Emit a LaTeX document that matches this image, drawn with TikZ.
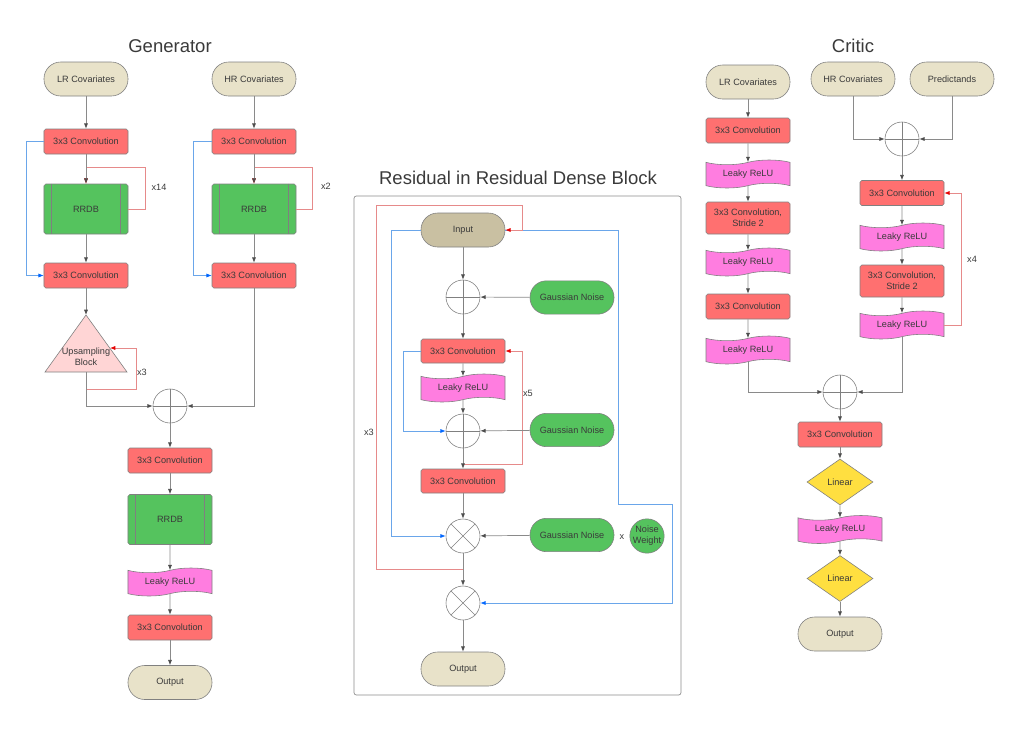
\documentclass[tikz,border=0pt]{standalone}
\usepackage{fontspec}
\setmainfont{Liberation Sans}
\usetikzlibrary{shapes.geometric,shapes.symbols,arrows.meta}
\definecolor{convred}{HTML}{FF7070}
\definecolor{blockgreen}{HTML}{55C35E}
\definecolor{termbeige}{HTML}{E8E2C9}
\definecolor{inputbeige}{HTML}{C9C0A2}
\definecolor{relupink}{HTML}{FF7DE0}
\definecolor{linyellow}{HTML}{FFDF40}
\definecolor{upspink}{HTML}{FFD5D5}
\definecolor{txtgray}{HTML}{3A3A3A}
\definecolor{linegray}{HTML}{8A8A8A}
\definecolor{loopred}{HTML}{E68A8A}
\definecolor{skipblue}{HTML}{6AA6EA}
\begin{document}
\begin{tikzpicture}[x=0.03cm, y=-0.03cm,
 every node/.style={font=\fontsize{7.8}{9.4}\selectfont, text=txtgray, align=center},
 base/.style={draw=black!50, line width=0.5pt},
 term/.style={base, fill=termbeige, rectangle, rounded corners=0.5cm, minimum width=2.52cm, minimum height=1.02cm},
 conv/.style={base, fill=convred, rectangle, rounded corners=1.5pt, minimum width=2.52cm, minimum height=0.75cm},
 rrdb/.style={base, fill=blockgreen, rectangle, rounded corners=1.5pt, minimum width=2.52cm, minimum height=1.5cm},
 relu/.style={base, fill=relupink, tape, tape bend height=4pt, minimum width=2.52cm, minimum height=0.84cm},
 lin/.style={base, fill=linyellow, diamond, minimum width=1.98cm, minimum height=1.38cm, inner sep=0pt},
 op/.style={base, circle, minimum size=1.02cm, inner sep=0pt},
 noise/.style={base, fill=blockgreen, rectangle, rounded corners=0.49cm, minimum width=2.52cm, minimum height=1cm},
 arr/.style={draw=linegray, line width=0.6pt, -{Latex[length=4.5pt,width=3.5pt,color=black!70]}},
 rd/.style={draw=loopred, line width=0.6pt, -{Latex[length=4.5pt,width=3.5pt,color=red!90!black]}},
 bl/.style={draw=skipblue, line width=0.6pt, -{Latex[length=4.5pt,width=3.5pt,color=blue!60!cyan]}},
 ttl/.style={font=\fontsize{15.8}{18}\selectfont}
]
 \useasboundingbox (0,0) rectangle (1026,748);

 %generator
 \def\gl{86}
 \def\gright{254}
 \def\gm{170}
 \node[ttl] (gtitle) at (\gm,46) {Generator};
 \node[term] (glr) at (\gl,79) {LR Covariates};
 \node[term] (ghr) at (\gright,79) {HR Covariates};
 \node[conv] (gcA) at (\gl,141.5) {3x3 Convolution};
 \node[conv] (gcB) at (\gright,141.5) {3x3 Convolution};
 \node[rrdb] (grA) at (\gl,209) {RRDB};
 \node[rrdb] (grB) at (\gright,209) {RRDB};
 \node[conv] (gcC) at (\gl,275.5) {3x3 Convolution};
 \node[conv] (gcD) at (\gright,275.5) {3x3 Convolution};
 \draw[base, fill=upspink] (\gl,315) -- (127,372) -- (45,372) -- cycle;
 \node (gup) at (\gl,357) {Upsampling\\Block};
 \coordinate (gupT) at (\gl,315);
 \coordinate (gupB) at (\gl,372);
 \coordinate (gupR) at (110,348);
 \node[op] (gs) at (\gm,406) {};
 \node[conv] (gcE) at (\gm,460.5) {3x3 Convolution};
 \node[rrdb] (grC) at (\gm,519.5) {RRDB};
 \node[relu] (glu) at (\gm,582) {Leaky ReLU};
 \node[conv] (gcF) at (\gm,627.5) {3x3 Convolution};
 \node[term] (gout) at (\gm,682.5) {Output};

 %loops
 \draw[rd] (grA.east) -| (145,167) -| (grA.north);
 \draw[rd] (grB.east) -| (312,167) -| (grB.north);
 \draw[rd] (gupB) -- (\gl,389) -| (136,348) -- (gupR);
 \draw[bl] (gcA.west) -- ++(-17,0) |- (gcC.west);
 \draw[bl] (gcB.west) -- ++(-18,0) |- (gcD.west);
 \node (gxA) at (159,187) {x14};
 \node (gxB) at (326,186) {x2};
 \node (gxC) at (142,372) {x3};

 %arrows
 \foreach \a/\b in {glr/gcA, gcA/grA, grA/gcC, ghr/gcB, gcB/grB, grB/gcD, gs/gcE, gcE/grC, grC/glu, glu/gcF, gcF/gout}
   \draw[arr] (\a) -- (\b);
 \draw[arr] (gcC) -- (gupT);
 \draw[arr] (gupB) |- (gs.west);
 \draw[arr] (gcD) |- (gs.east);

 %residual in residual dense block
 \def\rx{463}
 \def\nx{572}
 \node[ttl] (rtitle) at (518,178) {Residual in Residual Dense Block};
 \draw[draw=black!45, line width=0.6pt, rounded corners=2pt] (354,196) rectangle (681,695);
 \node[term, fill=inputbeige] (rin) at (\rx,230) {Input};
 \node[op] (rsA) at (\rx,297) {};
 \node[noise] (rnA) at (\nx,297.5) {Gaussian Noise};
 \node[conv, minimum height=0.72cm] (rcA) at (\rx,351) {3x3 Convolution};
 \node[relu] (rlu) at (\rx,388) {Leaky ReLU};
 \node[op] (rsB) at (\rx,431) {};
 \node[noise] (rnB) at (\nx,430) {Gaussian Noise};
 \node[conv, minimum height=0.72cm] (rcB) at (\rx,481) {3x3 Convolution};
 \node[op] (rmA) at (\rx,536) {};
 \node[noise] (rnC) at (\nx,535) {Gaussian Noise};
 \node (rtimes) at (622,537) {x};
 \node[op, fill=blockgreen] (rw) at (647,536) {Noise\\Weight};
 \node[op] (rmB) at (\rx,603) {};
 \node[term] (rout) at (\rx,669) {Output};

 %loops
 \coordinate (rfive) at (\rx,464);
 \coordinate (rthree) at (\rx,569);
 \draw[bl] (rin.east) -| (618,504) -| (672,603) -- (rmB.east);
 \draw[rd] (rthree) -- (376,569) |- (522,205) |- (rin.east);
 \draw[rd] (rfive) -- (522,464) |- (rcA.east);
 \draw[bl] (rin.west) -- ++(-29,0) |- (rmA.west);
 \draw[bl] (rcA.west) -- ++(-17,0) |- (rsB.west);
 \node (rxA) at (528,393) {x5};
 \node (rxB) at (369,432) {x3};

 %arrows
 \foreach \a/\b in {rin/rsA, rsA/rcA, rcA/rlu, rlu/rsB, rsB/rcB, rcB/rmA, rmA/rmB, rmB/rout, rnA/rsA, rnB/rsB, rnC/rmA}
   \draw[arr] (\a) -- (\b);

 %critic
 \def\ckl{748}
 \def\ckr{902}
 \def\ckm{840}
 \node[ttl] (ctitle) at (853,46) {Critic};
 \node[term] (clr) at (\ckl,82) {LR Covariates};
 \node[term] (chr) at (853,79) {HR Covariates};
 \node[term] (cpr) at (952,79) {Predictands};
 \node[op] (csA) at (\ckr,139) {};
 \node[conv] (ccA) at (\ckr,193) {3x3 Convolution};
 \node[relu] (cuA) at (\ckr,237) {Leaky ReLU};
 \node[conv, minimum height=0.96cm] (ccB) at (\ckr,281) {3x3 Convolution,\\Stride 2};
 \node[relu] (cuB) at (\ckr,325) {Leaky ReLU};
 \node[conv] (ccC) at (\ckl,130.5) {3x3 Convolution};
 \node[relu] (cuC) at (\ckl,174) {Leaky ReLU};
 \node[conv, minimum height=0.96cm] (ccD) at (\ckl,218) {3x3 Convolution,\\Stride 2};
 \node[relu] (cuD) at (\ckl,262) {Leaky ReLU};
 \node[conv] (ccE) at (\ckl,306.5) {3x3 Convolution};
 \node[relu] (cuE) at (\ckl,350) {Leaky ReLU};
 \node[op] (csB) at (\ckm,392) {};
 \node[conv] (ccF) at (\ckm,434.5) {3x3 Convolution};
 \node[lin] (ciA) at (\ckm,482) {Linear};
 \node[relu] (cuF) at (\ckm,529.5) {Leaky ReLU};
 \node[lin] (ciB) at (\ckm,578.5) {Linear};
 \node[term] (cout) at (\ckm,634) {Output};

 %loop
 \draw[rd] (cuB.east) -| (961,193) -- (ccA.east);
 \node (cxA) at (972,259) {x4};

 %arrows
 \foreach \a/\b in {clr/ccC, ccC/cuC, cuC/ccD, ccD/cuD, cuD/ccE, ccE/cuE, csA/ccA, ccA/cuA, cuA/ccB, ccB/cuB, csB/ccF, ccF/ciA, ciA/cuF, cuF/ciB, ciB/cout}
   \draw[arr] (\a) -- (\b);
 \draw[arr] (chr) |- (csA.west);
 \draw[arr] (cpr) |- (csA.east);
 \draw[arr] (cuE) |- (csB.west);
 \draw[arr] (cuB) |- (csB.east);

 %plus and cross marks
 \foreach \n in {gs, rsA, rsB, csA, csB}
   \draw[black!50, line width=0.5pt] (\n.north) -- (\n.south) (\n.west) -- (\n.east);
 \foreach \n in {rmA, rmB}
   \draw[black!50, line width=0.5pt] (\n.45) -- (\n.225) (\n.135) -- (\n.315);
 \foreach \n in {grA, grB, grC}
   \draw[black!50, line width=0.5pt] ([xshift=0.24cm]\n.north west) -- ([xshift=0.24cm]\n.south west)
     ([xshift=-0.24cm]\n.north east) -- ([xshift=-0.24cm]\n.south east);

\end{tikzpicture}
\end{document}
